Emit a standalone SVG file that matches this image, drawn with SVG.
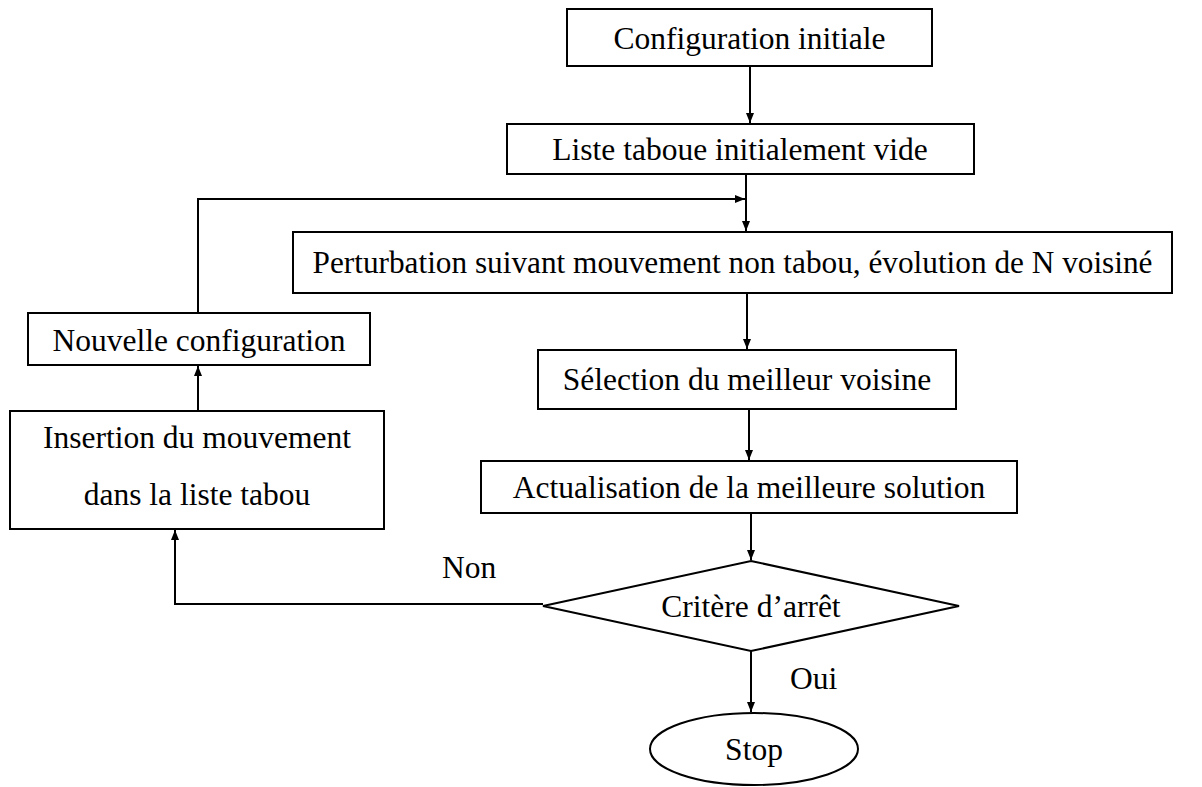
<svg xmlns="http://www.w3.org/2000/svg" width="1202" height="787" viewBox="0 0 1202 787">
<style>
.box{fill:#fff;stroke:#000;stroke-width:2}
.t{font-family:"Liberation Serif","Times New Roman",serif;font-size:31.5px;fill:#000;text-anchor:middle}
.tl{font-family:"Liberation Serif","Times New Roman",serif;font-size:31.5px;fill:#000}
.c{fill:none;stroke:#000;stroke-width:2}
</style>
<defs>
<marker id="ah" viewBox="0 0 10 10" refX="10" refY="5" markerWidth="10" markerHeight="10" markerUnits="userSpaceOnUse" orient="auto">
<path d="M0,1 L10,5 L0,9 Z" fill="#000"/>
</marker>
</defs>
<rect width="1202" height="787" fill="#fff"/>
<g id="connectors">
<path class="c" d="M750,66 V123" marker-end="url(#ah)"/>
<path class="c" d="M746,174 V231" marker-end="url(#ah)"/>
<path class="c" d="M198,313 V199 H745" marker-end="url(#ah)"/>
<path class="c" d="M747,293 V349" marker-end="url(#ah)"/>
<path class="c" d="M749,409 V460" marker-end="url(#ah)"/>
<path class="c" d="M751,513 V560" marker-end="url(#ah)"/>
<path class="c" d="M751,651 V712" marker-end="url(#ah)"/>
<path class="c" d="M543,604 H175 V530" marker-end="url(#ah)"/>
<path class="c" d="M198,411 V366" marker-end="url(#ah)"/>
<text class="tl" x="442" y="578">Non</text>
<text class="tl" x="790" y="689">Oui</text>
</g>
<g id="config-initiale">
<rect class="box" x="567" y="9" width="365" height="57"/>
<text class="t" x="749.5" y="49">Configuration initiale</text>
</g>
<g id="liste-taboue">
<rect class="box" x="507" y="124" width="467" height="50"/>
<text class="t" x="740" y="160">Liste taboue initialement vide</text>
</g>
<g id="perturbation">
<rect class="box" x="293" y="232" width="879" height="61"/>
<text class="t" x="732.5" y="273" textLength="840" lengthAdjust="spacingAndGlyphs">Perturbation suivant mouvement non tabou, évolution de N voisiné</text>
</g>
<g id="selection">
<rect class="box" x="538" y="350" width="418" height="59"/>
<text class="t" x="747" y="390">Sélection du meilleur voisine</text>
</g>
<g id="actualisation">
<rect class="box" x="481" y="461" width="536" height="52"/>
<text class="t" x="749" y="498">Actualisation de la meilleure solution</text>
</g>
<g id="critere">
<polygon class="box" points="751,561 959,606 751,651 543,606"/>
<text class="t" x="751" y="617">Critère d’arrêt</text>
</g>
<g id="stop">
<ellipse class="box" cx="754" cy="749" rx="104" ry="36"/>
<text class="t" x="754" y="760">Stop</text>
</g>
<g id="insertion">
<rect class="box" x="10" y="411" width="374" height="118"/>
<text class="t" x="197" y="448">Insertion du mouvement</text>
<text class="t" x="197" y="505">dans la liste tabou</text>
</g>
<g id="nouvelle-config">
<rect class="box" x="28" y="313" width="342" height="52"/>
<text class="t" x="199" y="351">Nouvelle configuration</text>
</g>
</svg>
